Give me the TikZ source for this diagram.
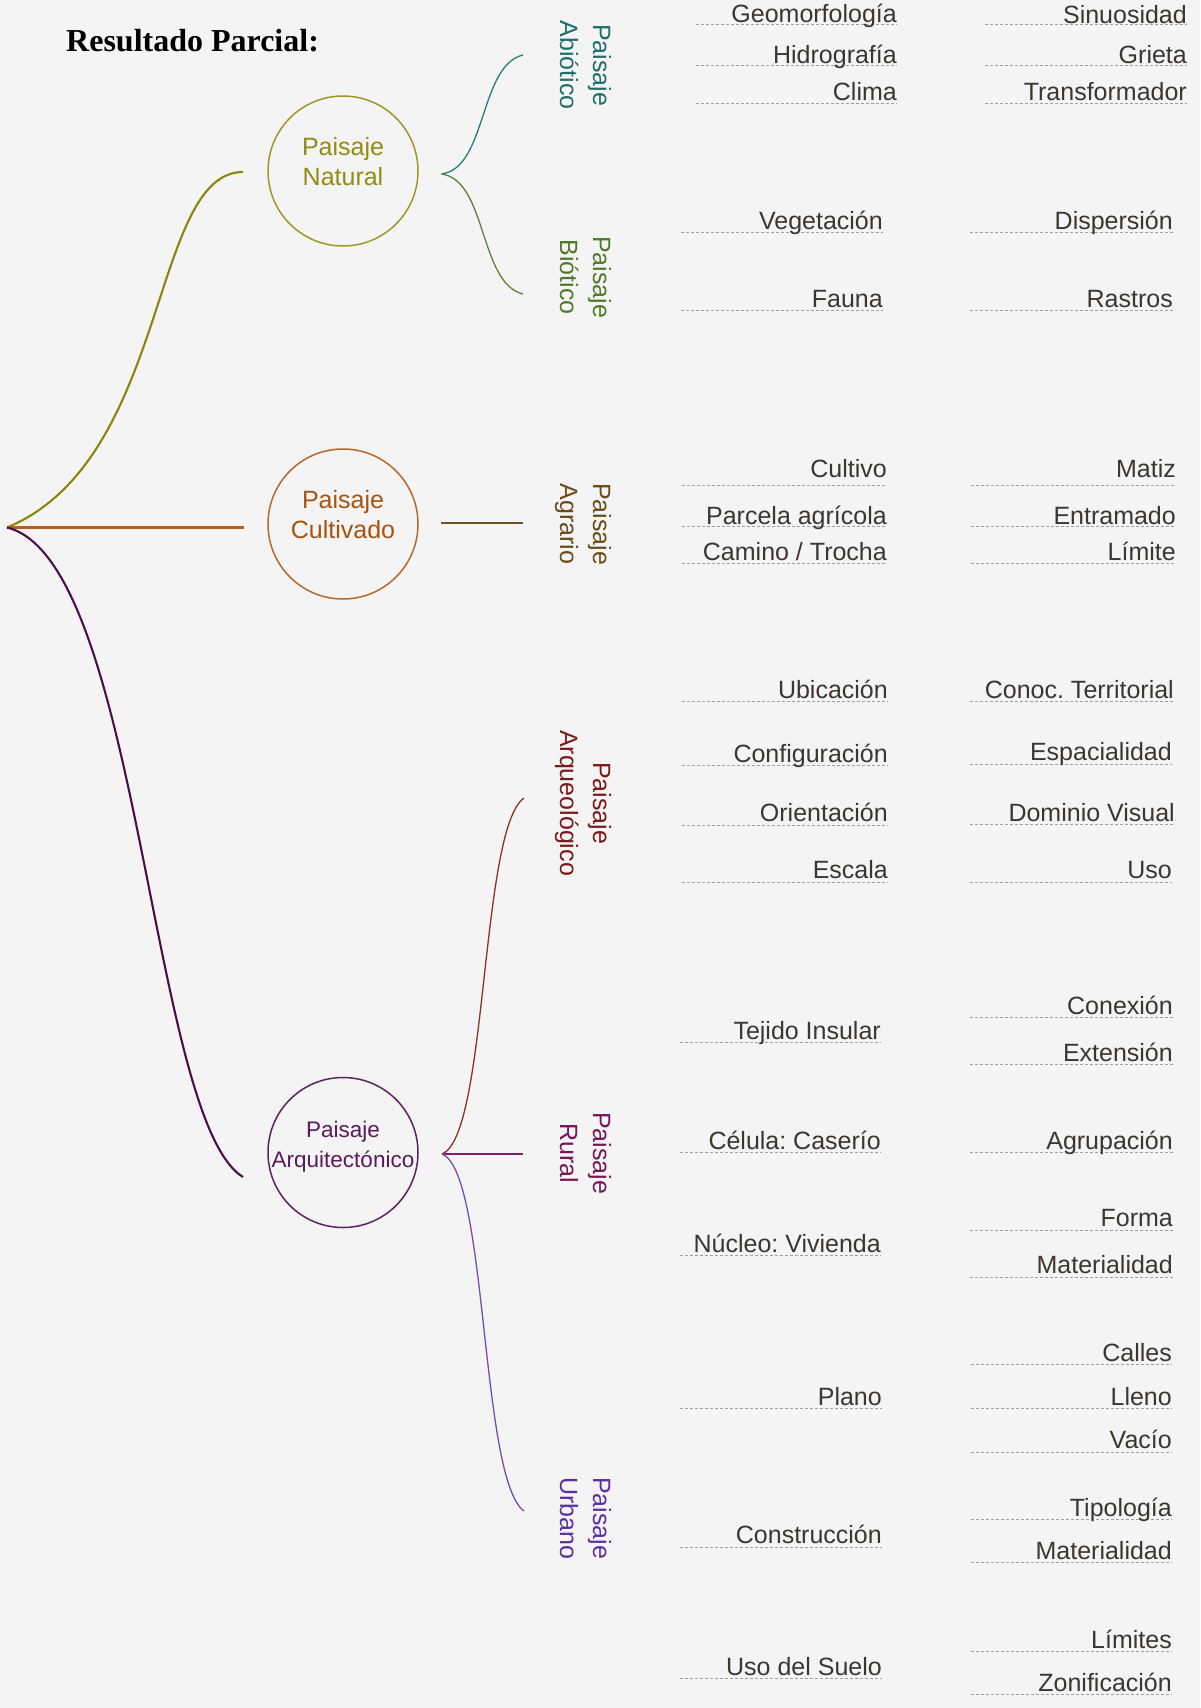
\documentclass[tikz,border=0pt]{standalone}
\usepackage{fontspec}
\setmainfont{Liberation Sans}
\newfontfamily\titlefont{Liberation Serif}
\definecolor{bgc}{HTML}{F4F4F4}
\definecolor{natc}{HTML}{8C8508}
\definecolor{natcirc}{HTML}{A09728}
\definecolor{nattext}{HTML}{948B12}
\definecolor{culc}{HTML}{B5601A}
\definecolor{culcirc}{HTML}{B8692A}
\definecolor{cultext}{HTML}{A9520E}
\definecolor{arqc}{HTML}{4A0E4C}
\definecolor{arqcirc}{HTML}{5E2260}
\definecolor{arqtext}{HTML}{5A1A5C}
\definecolor{abioc}{HTML}{2A7B78}
\definecolor{abiotext}{HTML}{1E6E69}
\definecolor{bioc}{HTML}{61803A}
\definecolor{biotext}{HTML}{4F7A27}
\definecolor{agrc}{HTML}{6F5220}
\definecolor{agrtext}{HTML}{6A4A16}
\definecolor{arqlc}{HTML}{8E3222}
\definecolor{arqltext}{HTML}{7B1818}
\definecolor{rurc}{HTML}{7E2064}
\definecolor{rurtext}{HTML}{7A1458}
\definecolor{urbc}{HTML}{6E50B0}
\definecolor{urbtext}{HTML}{5B2FA3}
\definecolor{leafc}{HTML}{3C3631}
\definecolor{dashc}{HTML}{A0A0A0}
\newcommand{\leafitem}[6]{%
  \draw[dashline] (#2,#5) -- (#3,#5);
  \node[leaftext, anchor=base east] (#1) at (#3,#4) {#6};
}
\begin{document}
\frenchspacing
\begin{tikzpicture}[x=1pt,y=-1pt,
  mainline/.style={line width=2.1pt},
  subline/.style={line width=1.3pt},
  dashline/.style={draw=dashc, line width=0.9pt, dash pattern=on 3pt off 2pt},
  leaftext/.style={font=\fontsize{25}{30}\selectfont, text=leafc, inner sep=0pt},
  vlabel/.style={rotate=-90, align=center, font=\fontsize{25}{33}\selectfont, inner sep=0pt},
  ctext/.style={align=center, font=\fontsize{25}{30}\selectfont, inner sep=0pt},
  bigcirc/.style={circle, line width=1.5pt, minimum size=150pt, inner sep=0pt}]
\fill[bgc] (0,0) rectangle (1200,1708);
\useasboundingbox (0,0) rectangle (1200,1708);

\node[font=\titlefont\bfseries\fontsize{32}{38}\selectfont, anchor=base west, inner sep=0pt] (title) at (66,51.5) {Resultado Parcial:};

% circles
\node[bigcirc, draw=natcirc] (natural) at (343,171) {};
\node[ctext, text=nattext] (naturalt) at (343,162) {Paisaje\\Natural};
\node[bigcirc, draw=culcirc] (cultivado) at (343,524) {};
\node[ctext, text=cultext] (cultivadot) at (343,515) {Paisaje\\Cultivado};
\node[bigcirc, draw=arqcirc] (arquitectonico) at (343,1152.5) {};
\node[ctext, text=arqtext, font=\fontsize{22.5}{30}\selectfont] (arquitectonicot) at (343,1147) {Paisaje\\Arquitectónico};

% connection points
\coordinate (root) at (7,527.5);
\coordinate (natIn) at (243,172);
\coordinate (culIn) at (244,527.5);
\coordinate (arqIn) at (243,1177);
\coordinate (natOut) at (441.5,174);
\coordinate (culOut) at (441,523);
\coordinate (arqOut) at (442,1154);
\coordinate (abioEnd) at (523,55);
\coordinate (bioEnd) at (523,294);
\coordinate (agrEnd) at (523,523);
\coordinate (arqlEnd) at (524,798);
\coordinate (rurEnd) at (523,1154);
\coordinate (urbEnd) at (524,1511);

% main connectors
\draw[mainline, natc] (root) .. controls (170,460) and (150,172) .. (natIn);
\draw[mainline, culc] (root) -- (culIn);
\draw[mainline, arqc] (root) .. controls (140,560) and (150,1120) .. (arqIn);

% sub connectors
\draw[subline, abioc] (natOut) .. controls (487,168) and (479,65.5) .. (abioEnd);
\draw[subline, bioc] (natOut) .. controls (487,180) and (479,283.5) .. (bioEnd);
\draw[subline, agrc] (culOut) -- (agrEnd);
\draw[subline, arqlc] (arqOut) .. controls (488,1136) and (480,829) .. (arqlEnd);
\draw[subline, rurc] (arqOut) -- (rurEnd);
\draw[subline, urbc] (arqOut) .. controls (488,1172) and (480,1479) .. (urbEnd);

% vertical labels
\node[vlabel, text=abiotext] (abio) at (585.5,65) {Paisaje\\Abiótico};
\node[vlabel, text=biotext] (bio) at (585.5,277) {Paisaje\\Biótico};
\node[vlabel, text=agrtext] (agr) at (583,524) {Paisaje\\Agrario};
\node[vlabel, text=arqltext] (arql) at (583,803) {Paisaje\\Arqueológico};
\node[vlabel, text=rurtext] (rur) at (585.5,1153) {Paisaje\\Rural};
\node[vlabel, text=urbtext] (urb) at (585.5,1518) {Paisaje\\Urbano};

% leaves
\leafitem{geo}{696}{897}{22.7}{24.3}{Geomorfología}
\leafitem{hid}{696}{897}{63.5}{65.5}{Hidrografía}
\leafitem{cli}{696}{897}{100}{103}{Clima}
\leafitem{sin}{985}{1187}{23}{24.3}{Sinuosidad}
\leafitem{gri}{985}{1187}{63.5}{65.5}{Grieta}
\leafitem{tra}{985}{1187}{100}{103}{Transformador}
\leafitem{veg}{681}{883}{229.5}{232}{Vegetación}
\leafitem{fau}{681}{883}{307}{310}{Fauna}
\leafitem{dis}{970}{1173}{229.5}{232}{Dispersión}
\leafitem{ras}{970}{1173}{307}{310}{Rastros}
\leafitem{cul}{682}{887}{477}{485}{Cultivo}
\leafitem{par}{682}{887}{524}{526}{Parcela agrícola}
\leafitem{cam}{682}{887}{560.5}{563}{Camino / Trocha}
\leafitem{mat}{971}{1176}{477}{485}{Matiz}
\leafitem{ent}{971}{1176}{524}{526}{Entramado}
\leafitem{lim}{971}{1176}{560.5}{563}{Límite}
\leafitem{ubi}{682}{888}{698}{701}{Ubicación}
\leafitem{cnf}{682}{888}{762}{765}{Configuración}
\leafitem{ori}{682}{888}{821}{825}{Orientación}
\leafitem{esc}{682}{888}{878.5}{882}{Escala}
\leafitem{cte}{970}{1174}{698}{701}{Conoc. Territorial}
\leafitem{esp}{970}{1172}{760.5}{764}{Espacialidad}
\leafitem{dom}{970}{1175}{821}{824}{Dominio Visual}
\leafitem{uso}{970}{1172}{878.5}{882}{Uso}
\leafitem{tej}{680}{881}{1039.5}{1042.5}{Tejido Insular}
\leafitem{cel}{680}{881}{1149.5}{1152}{Célula: Caserío}
\leafitem{nuc}{680}{881}{1252.5}{1255}{Núcleo: Vivienda}
\leafitem{cnx}{970}{1173}{1014}{1017.5}{Conexión}
\leafitem{ext}{970}{1173}{1061}{1064.5}{Extensión}
\leafitem{agp}{970}{1173}{1149.5}{1152}{Agrupación}
\leafitem{frm}{970}{1173}{1226.5}{1230}{Forma}
\leafitem{mtl}{970}{1173}{1273.5}{1277.5}{Materialidad}
\leafitem{pla}{680}{882}{1405}{1408.5}{Plano}
\leafitem{cns}{680}{882}{1543.5}{1547}{Construcción}
\leafitem{sue}{680}{882}{1675}{1678.5}{Uso del Suelo}
\leafitem{cal}{971}{1172}{1361}{1364.5}{Calles}
\leafitem{lle}{971}{1172}{1405}{1408.5}{Lleno}
\leafitem{vac}{971}{1172}{1448.5}{1452}{Vacío}
\leafitem{tip}{971}{1172}{1516}{1519}{Tipología}
\leafitem{mtb}{971}{1172}{1559}{1562.5}{Materialidad}
\leafitem{lmt}{971}{1172}{1648}{1651}{Límites}
\leafitem{zon}{971}{1172}{1691}{1694.5}{Zonificación}
\end{tikzpicture}
\end{document}
